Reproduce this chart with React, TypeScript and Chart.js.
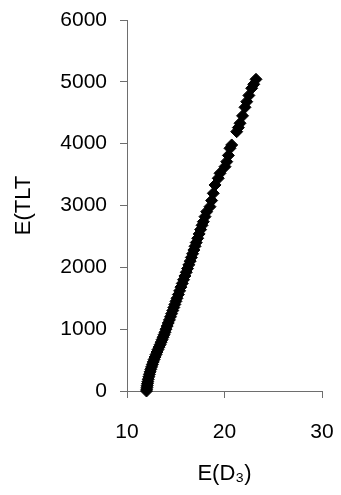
import React, { useEffect, useRef } from "react";
import { Chart, registerables } from "chart.js";

Chart.register(...registerables);

// E(D3) values
const xValues: number[] = [
  12.0, 12.02, 12.05, 12.07, 12.1, 12.13, 12.18, 12.24, 12.3, 12.37,
  12.44, 12.52, 12.6, 12.69, 12.78, 12.88, 12.98, 13.08, 13.18, 13.29,
  13.4, 13.5, 13.6, 13.7, 13.8, 13.9, 14.0, 14.12, 14.23, 14.35,
  14.46, 14.57, 14.69, 14.8, 14.91, 15.02, 15.13, 15.27, 15.4, 15.53,
  15.67, 15.8, 15.94, 16.08, 16.21, 16.34, 16.48, 16.6, 16.73, 16.86,
  16.98, 17.1, 17.25, 17.4, 17.55, 17.7, 17.83, 18.0, 18.17, 18.51, 18.68,
  18.85, 19.03, 19.36, 19.54, 20.05, 20.23, 20.4, 20.56, 20.74, 21.25,
  21.42, 21.59, 21.85, 22.1, 22.28, 22.5, 22.79, 23.0, 23.23,
];

// E(TLT) values
const yValues: number[] = [
  0, 30, 60, 90, 120, 150, 190, 230, 270, 310,
  350, 390, 430, 470, 510, 550, 590, 630, 670, 710,
  750, 790, 830, 870, 910, 950, 1000, 1050, 1100, 1150,
  1200, 1250, 1300, 1350, 1400, 1450, 1500, 1560, 1620, 1680,
  1740, 1800, 1860, 1920, 1980, 2040, 2100, 2160, 2220, 2280,
  2340, 2400, 2470, 2540, 2610, 2680, 2738, 2820, 2900, 2981, 3080,
  3197, 3332, 3440, 3521, 3628, 3709, 3810, 3925, 3979, 4194,
  4260, 4330, 4450, 4588, 4679, 4780, 4896, 4960, 5041,
];

const xTicks: number[] = [10, 20, 30];
const yTicks: number[] = [0, 1000, 2000, 3000, 4000, 5000, 6000];

const xTitle = "E(D\u2083)";
const yTitle = "E(TLT";

export default function App() {
  const canvasRef = useRef<HTMLCanvasElement | null>(null);

  useEffect(() => {
    const canvas = canvasRef.current;
    if (!canvas) return;
    const font = "'Liberation Sans', Arial, sans-serif";
    const axisColor = "#6e6e6e";
    const chart = new Chart(canvas, {
      type: "scatter",
      data: {
        datasets: [
          {
            data: xValues.map((x, i) => ({ x, y: yValues[i] })),
            pointStyle: "rectRot",
            pointRadius: 6,
            pointBorderWidth: 1,
            backgroundColor: "#000",
            borderColor: "#000",
            clip: false,
          } as any,
        ],
      },
      options: {
        animation: false,
        responsive: false,
        maintainAspectRatio: false,
        layout: { padding: { left: 0, top: 20, right: 19, bottom: 0 } },
        plugins: {
          legend: { display: false },
          tooltip: { enabled: false },
        },
        scales: {
          x: {
            type: "linear",
            min: xTicks[0],
            max: xTicks[xTicks.length - 1],
            afterBuildTicks: (s: any) => {
              s.ticks = xTicks.map((v) => ({ value: v }));
            },
            afterFit: (s: any) => {
              s.height = 104;
              s.paddingLeft = 0;
              s.paddingRight = 0;
            },
            grid: {
              drawOnChartArea: false,
              drawTicks: true,
              tickLength: 7,
              tickColor: axisColor,
              lineWidth: 1,
            },
            border: { display: true, color: axisColor, width: 1 },
            ticks: {
              color: "#000",
              padding: 22,
              maxRotation: 0,
              font: { family: font, size: 21 },
              callback: (v: any) => String(v),
            },
            title: {
              display: true,
              text: xTitle,
              color: "#000",
              font: { family: font, size: 22 },
              padding: { top: 0, bottom: 8 },
            },
          },
          y: {
            type: "linear",
            min: yTicks[0],
            max: yTicks[yTicks.length - 1],
            afterBuildTicks: (s: any) => {
              s.ticks = yTicks.map((v) => ({ value: v }));
            },
            afterFit: (s: any) => {
              s.width = 127;
              s.paddingTop = 0;
              s.paddingBottom = 0;
            },
            grid: {
              drawOnChartArea: false,
              drawTicks: true,
              tickLength: 7,
              tickColor: axisColor,
              lineWidth: 1,
            },
            border: { display: true, color: axisColor, width: 1 },
            ticks: {
              color: "#000",
              padding: 13,
              font: { family: font, size: 21 },
              callback: (v: any) => String(v),
            },
            title: {
              display: true,
              text: yTitle,
              color: "#000",
              font: { family: font, size: 22 },
              padding: { top: 11, bottom: 0 },
            },
          },
        },
      },
    });
    return () => chart.destroy();
  }, []);

  return (
    <div style={{ position: "fixed", left: 0, top: 0, width: 341, height: 495, background: "#fff" }}>
      <canvas ref={canvasRef} width={341} height={495} style={{ width: 341, height: 495, display: "block" }} />
    </div>
  );
}
